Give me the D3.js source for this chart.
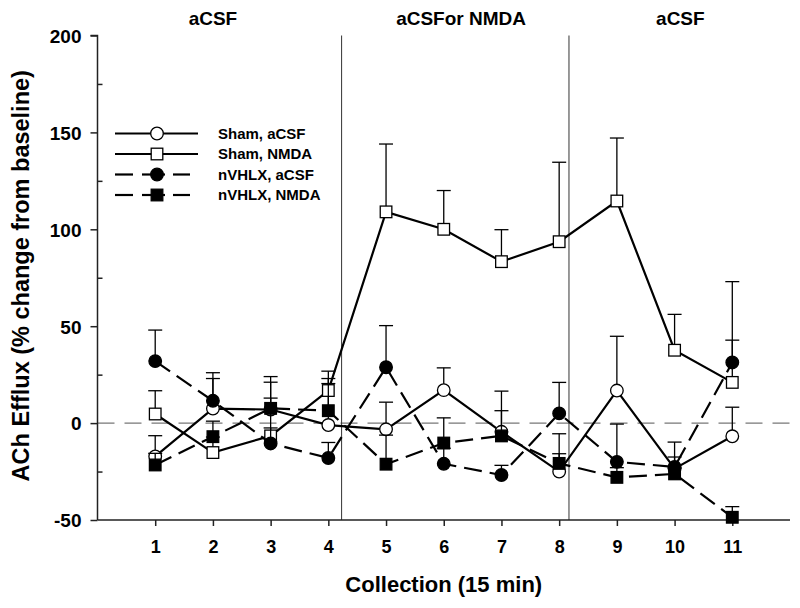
<!DOCTYPE html>
<html><head><meta charset="utf-8">
<script src="https://cdn.jsdelivr.net/npm/d3@7"></script>
<style>
html,body{margin:0;padding:0;background:#fff;}
text{font-family:"Liberation Sans Narrow","Liberation Sans",Arial,sans-serif;font-weight:bold;fill:#000;}
</style></head>
<body><svg id="chart" width="800" height="608"></svg>
<script>
const collections = [1,2,3,4,5,6,7,8,9,10,11];
const shamACSF     = [-17.2, 7.5, 7.0, -1.0, -3.2, 17.0, -4.5, -25.0, 16.8, -23.5, -6.8];
const shamACSFErr  = [10.7, 15.5, 17, 24, 14, 11.5, 21, 19.5, 28, 6, 15];
const shamNMDA     = [4.7, -15.2, -6.6, 16.8, 109.0, 100.0, 83.3, 93.6, 114.6, 37.6, 21.0];
const shamNMDAErr  = [12, 8, 19.5, 10, 35, 20, 16.5, 41, 32.5, 18.5, 52];
const vhlxACSF     = [32.0, 11.5, -10.5, -18.0, 28.8, -21.0, -26.8, 5.0, -20.0, -22.6, 31.3];
const vhlxACSFErr  = [16, 14.5, 8, 8, 21.5, 8, 5, 16, 19.5, 12.8, 11.5];
const vhlxNMDA     = [-21.6, -7.0, 7.6, 6.4, -21.2, -10.3, -6.6, -20.8, -28.0, -26.2, -48.6];
const vhlxNMDAErr  = [6, 8, 13.5, 14, 15, 13, 13, 5, 5, 3, 5.5];
const seriesNames  = ["Sham, aCSF","Sham, NMDA","nVHLX, aCSF","nVHLX, NMDA"];
const yTicks = [-50,0,50,100,150,200];
const yMinorTicks = [-25,25,75,125,175];
const phaseLabels = ["aCSF","aCSFor NMDA","aCSF"];
const phaseLabelPos = [2.0, 6.3, 10.1];
const phaseBounds = [4.23, 8.17];

const series = [
  {name:seriesNames[0], vals:shamACSF, err:shamACSFErr, shape:"circle", fill:"#fff", dash:null},
  {name:seriesNames[1], vals:shamNMDA, err:shamNMDAErr, shape:"square", fill:"#fff", dash:null},
  {name:seriesNames[2], vals:vhlxACSF, err:vhlxACSFErr, shape:"circle", fill:"#000", dash:"18,8"},
  {name:seriesNames[3], vals:vhlxNMDA, err:vhlxNMDAErr, shape:"square", fill:"#000", dash:"18,8"}
];

const svg = d3.select("#chart");
svg.append("rect").attr("width",800).attr("height",608).attr("fill","#fff");
const x = d3.scaleLinear().domain([0,12]).range([97.5,790]);
const y = d3.scaleLinear().domain([-50,200]).range([520,35.5]);

// zero reference line
svg.append("line").attr("x1",x(0)).attr("x2",x(12)).attr("y1",y(0)).attr("y2",y(0))
  .attr("stroke","#555").attr("stroke-width",1).attr("stroke-dasharray","17,10");

// phase boundaries
phaseBounds.forEach(b=>{
  svg.append("line").attr("x1",x(b)).attr("x2",x(b)).attr("y1",y(200)).attr("y2",y(-50))
    .attr("stroke","#333").attr("stroke-width",1);
});
phaseLabels.forEach((t,i)=>{
  svg.append("text").attr("x",x(phaseLabelPos[i])).attr("y",25).attr("text-anchor","middle")
    .style("font-size","19px").text(t);
});

// axes
const yAxis = svg.append("g").attr("transform",`translate(${x(0)},0)`)
  .call(d3.axisLeft(y).tickValues(yTicks).tickSize(7).tickPadding(9).tickFormat(d=>String(d)));
const yMinor = svg.append("g").attr("transform",`translate(${x(0)},0)`)
  .call(d3.axisRight(y).tickValues(yMinorTicks).tickSize(5).tickFormat(""));
yMinor.select(".domain").remove();
const xAxis = svg.append("g").attr("transform",`translate(0,${y(-50)})`)
  .call(d3.axisBottom(x).tickValues(collections).tickSize(6).tickPadding(14).tickFormat(d=>String(d)));
[yAxis,yMinor,xAxis].forEach(g=>{
  g.selectAll("path,line").attr("stroke","#222").attr("stroke-width",1.5);
});
yAxis.select(".domain").attr("d",`M-7,${y(200)}H0V${y(-50)}`);
xAxis.select(".domain").attr("d",`M${x(0)},0H${x(12)}`);
yAxis.selectAll("text").style("font-size","19px").style("font-family","Liberation Sans, Arial, sans-serif").attr("dy","0.36em");
xAxis.selectAll("text").style("font-size","18px");

// axis titles
svg.append("text").attr("x",x(6)).attr("y",592).attr("text-anchor","middle")
  .style("font-size","22px").text("Collection (15 min)");
svg.append("text").attr("transform",`translate(29,${(y(200)+y(-50))/2 - 2}) rotate(-90)`)
  .attr("text-anchor","middle").style("font-size","23.5px")
  .style("font-family","Liberation Sans, Arial, sans-serif").text("ACh Efflux (% change from baseline)");

const line = d3.line().x((d,i)=>x(collections[i])).y(d=>y(d));
function marker(g, shape, fill, cx, cy){
  if(shape==="circle"){
    g.append("circle").attr("cx",cx).attr("cy",cy).attr("r",6.3)
      .attr("fill",fill).attr("stroke","#000").attr("stroke-width",1.3);
  } else {
    g.append("rect").attr("x",cx-5.8).attr("y",cy-5.8).attr("width",11.6).attr("height",11.6)
      .attr("fill",fill).attr("stroke","#000").attr("stroke-width",1.3);
  }
}

series.forEach(s=>{
  const g = svg.append("g");
  s.vals.forEach((v,i)=>{
    const cx = x(collections[i]);
    g.append("line").attr("x1",cx).attr("x2",cx).attr("y1",y(v)).attr("y2",y(v+s.err[i]))
      .attr("stroke","#000").attr("stroke-width",1.3);
    g.append("line").attr("x1",cx-7).attr("x2",cx+7).attr("y1",y(v+s.err[i])).attr("y2",y(v+s.err[i]))
      .attr("stroke","#000").attr("stroke-width",1.3);
  });
  g.append("path").datum(s.vals).attr("d",line).attr("fill","none").attr("stroke","#000")
    .attr("stroke-width",2.2).attr("stroke-dasharray",s.dash);
  s.vals.forEach((v,i)=>marker(g,s.shape,s.fill,x(collections[i]),y(v)));
});

// legend
const legY = [133.5,154,174.5,195];
series.forEach((s,i)=>{
  const g = svg.append("g");
  if(s.dash){
    g.append("line").attr("x1",115).attr("x2",133).attr("y1",legY[i]).attr("y2",legY[i]).attr("stroke","#000").attr("stroke-width",2.2);
    g.append("line").attr("x1",142).attr("x2",165).attr("y1",legY[i]).attr("y2",legY[i]).attr("stroke","#000").attr("stroke-width",2.2);
    g.append("line").attr("x1",173).attr("x2",190).attr("y1",legY[i]).attr("y2",legY[i]).attr("stroke","#000").attr("stroke-width",2.2);
    marker(g,s.shape,s.fill,157,legY[i]);
  } else {
    g.append("line").attr("x1",115).attr("x2",198).attr("y1",legY[i]).attr("y2",legY[i]).attr("stroke","#000").attr("stroke-width",2.2);
    marker(g,s.shape,s.fill,157,legY[i]);
  }
  g.append("text").attr("x",218).attr("y",legY[i]).attr("dy","0.36em")
    .style("font-size","15px").style("font-family","Liberation Sans, Arial, sans-serif").text(s.name);
});
</script></body></html>
